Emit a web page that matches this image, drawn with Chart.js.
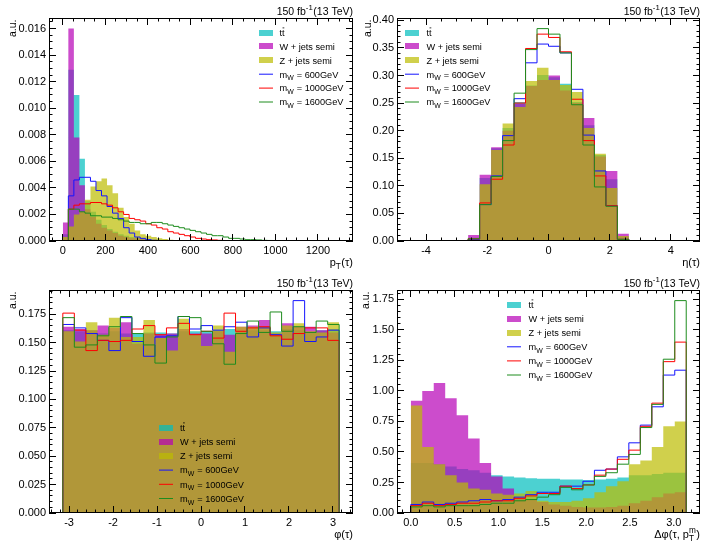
<!DOCTYPE html>
<html>
<head>
<meta charset="utf-8">
<title>tau kinematics</title>
<script src="https://cdn.jsdelivr.net/npm/chart.js@4.4.1/dist/chart.umd.min.js"></script>
<style>
  html, body { margin: 0; padding: 0; background: #fff; }
  body { width: 701px; height: 542px; position: relative; overflow: hidden; }
  .pad { position: absolute; }
</style>
</head>
<body>
<div class="pad" style="left:0;top:0;width:354px;height:271px"><canvas id="ptChart"></canvas></div>
<div class="pad" style="left:350px;top:0;width:351px;height:271px"><canvas id="etaChart"></canvas></div>
<div class="pad" style="left:0;top:271px;width:354px;height:271px"><canvas id="phiChart"></canvas></div>
<div class="pad" style="left:350px;top:271px;width:351px;height:271px"><canvas id="dphiChart"></canvas></div>
<script>
// ==============================
// DATA
// ==============================

const sampleNames = ['t#bar{t}', 'W + jets semi', 'Z + jets semi',
                     'm_{W} = 600GeV', 'm_{W} = 1000GeV', 'm_{W} = 1600GeV'];
const lumiText = '150 fb^{-1}(13 TeV)';

// p_T(tau): 50 bins from 0 to 1300
const ptRange = [0, 1300, 50];
const ptTT = [0.0005, 0.0129, 0.0110, 0.0062, 0.0030, 0.0022, 0.0016, 0.0012, 0.0009, 0.0007, 0.0005, 0.0004, 0.0003, 0.00025, 0.0002, 0.00015, 0.0001, 0.0001, 0.00008, 0.00006, 0.00005, 0.00004, 0.00003, 0.00002, 0.00002, 0.00001];
const ptW = [0.0014, 0.0160, 0.0078, 0.0042, 0.0024, 0.0018, 0.0013, 0.0010, 0.0008, 0.0006, 0.0004, 0.0003, 0.0002, 0.0002, 0.00015, 0.0001, 0.0001, 0.00008, 0.00006, 0.00005, 0.00004, 0.00003, 0.00002, 0.00002, 0.00001];
const ptZ = [0.0003, 0.0011, 0.0020, 0.0022, 0.0031, 0.0041, 0.0045, 0.0047, 0.0042, 0.0036, 0.0025, 0.0018, 0.0013, 0.0008, 0.0005, 0.0004, 0.0003, 0.0002, 0.00015, 0.0001, 0.00008, 0.00006, 0.00004, 0.00003, 0.00002, 0.00001];
const ptM600 = [0, 0.0034, 0.0046, 0.0048, 0.0048, 0.0045, 0.0038, 0.0034, 0.0026, 0.0021, 0.0017, 0.0010, 0.0006, 0.0003, 0.0002, 0.0001, 0.00005, 0.00003, 0.00002, 0.00001];
const ptM1000 = [0, 0.0024, 0.0027, 0.0028, 0.0028, 0.0029, 0.0029, 0.0028, 0.0027, 0.0025, 0.0022, 0.0020, 0.0017, 0.0016, 0.0015, 0.0013, 0.0012, 0.0010, 0.0009, 0.0007, 0.0006, 0.0005, 0.0004, 0.0003, 0.0002, 0.00015, 0.0001, 0.00008, 0.00005, 0.00003, 0.00002];
const ptM1600 = [0, 0.0024, 0.0024, 0.0022, 0.0021, 0.0019, 0.0019, 0.0018, 0.0018, 0.0017, 0.0016, 0.0015, 0.0014, 0.0014, 0.0013, 0.0013, 0.0014, 0.0014, 0.0013, 0.0012, 0.0011, 0.0010, 0.0009, 0.0008, 0.0007, 0.0006, 0.0005, 0.0004, 0.0004, 0.0003, 0.0002, 0.0002, 0.00015, 0.0001, 0.0001, 0.00008, 0.00005, 0.00004, 0.00003, 0.00002];
const ptXTicks = [0, 200, 400, 600, 800, 1000, 1200];
const ptYTicks = [0, 0.002, 0.004, 0.006, 0.008, 0.010, 0.012, 0.014, 0.016];

// eta(tau): 24 bins from -4.5 to 4.5
const etaRange = [-4.5, 4.5, 24];
const etaTT = [0, 0, 0, 0, 0, 0.006, 0.114, 0.168, 0.205, 0.252, 0.282, 0.301, 0.297, 0.285, 0.252, 0.210, 0.156, 0.112, 0.008, 0, 0, 0, 0, 0];
const etaW = [0, 0, 0, 0, 0, 0.011, 0.120, 0.170, 0.200, 0.249, 0.281, 0.292, 0.300, 0.273, 0.250, 0.223, 0.153, 0.127, 0.013, 0, 0, 0, 0, 0];
const etaZ = [0, 0, 0, 0, 0, 0.005, 0.103, 0.165, 0.213, 0.243, 0.290, 0.314, 0.292, 0.283, 0.270, 0.205, 0.158, 0.096, 0.009, 0, 0, 0, 0, 0];
const etaM600 = [0, 0, 0, 0, 0, 0.003, 0.066, 0.118, 0.191, 0.258, 0.323, 0.357, 0.353, 0.341, 0.275, 0.192, 0.127, 0.064, 0.003, 0, 0, 0, 0, 0];
const etaM1000 = [0, 0, 0, 0, 0, 0.004, 0.069, 0.112, 0.174, 0.250, 0.349, 0.375, 0.369, 0.343, 0.257, 0.182, 0.118, 0.064, 0.003, 0, 0, 0, 0, 0];
const etaM1600 = [0, 0, 0, 0, 0, 0.004, 0.066, 0.117, 0.182, 0.268, 0.347, 0.385, 0.375, 0.341, 0.247, 0.174, 0.098, 0.063, 0.003, 0, 0, 0, 0, 0];
const etaXTicks = [-4, -2, 0, 2, 4];
const etaYTicks = [0, 0.05, 0.10, 0.15, 0.20, 0.25, 0.30, 0.35, 0.40];

// phi(tau): 24 bins from -pi to pi
const phiRange = [-Math.PI, Math.PI, 24];
const phiTT = [0.161, 0.160, 0.161, 0.158, 0.160, 0.158, 0.158, 0.159, 0.159, 0.158, 0.160, 0.160, 0.160, 0.161, 0.162, 0.160, 0.161, 0.161, 0.160, 0.162, 0.161, 0.159, 0.161, 0.162];
const phiW = [0.164, 0.162, 0.161, 0.165, 0.163, 0.168, 0.149, 0.158, 0.157, 0.158, 0.162, 0.158, 0.158, 0.160, 0.157, 0.164, 0.165, 0.170, 0.158, 0.167, 0.164, 0.164, 0.161, 0.159];
const phiZ = [0.160, 0.151, 0.168, 0.157, 0.172, 0.155, 0.155, 0.170, 0.154, 0.143, 0.171, 0.157, 0.147, 0.165, 0.142, 0.164, 0.164, 0.164, 0.159, 0.165, 0.167, 0.160, 0.159, 0.168];
const phiM600 = [0.166, 0.163, 0.158, 0.152, 0.143, 0.172, 0.151, 0.138, 0.155, 0.156, 0.173, 0.162, 0.165, 0.161, 0.164, 0.168, 0.155, 0.163, 0.157, 0.147, 0.187, 0.151, 0.155, 0.161];
const phiM1000 = [0.176, 0.161, 0.143, 0.152, 0.151, 0.152, 0.162, 0.165, 0.157, 0.163, 0.167, 0.157, 0.160, 0.154, 0.176, 0.160, 0.163, 0.164, 0.156, 0.153, 0.158, 0.163, 0.163, 0.152];
const phiM1600 = [0.172, 0.146, 0.148, 0.156, 0.164, 0.173, 0.158, 0.148, 0.132, 0.155, 0.173, 0.172, 0.160, 0.149, 0.131, 0.158, 0.169, 0.159, 0.177, 0.160, 0.164, 0.159, 0.169, 0.166];
const phiXTicks = [-3, -2, -1, 0, 1, 2, 3];
const phiYTicks = [0, 0.025, 0.050, 0.075, 0.100, 0.125, 0.150, 0.175];

// delta phi(tau, MET): 24 bins from 0 to pi
const dphiRange = [0, Math.PI, 24];
const dphiTT = [0.41, 0.41, 0.40, 0.38, 0.36, 0.35, 0.33, 0.31, 0.30, 0.29, 0.285, 0.28, 0.28, 0.275, 0.275, 0.27, 0.275, 0.28, 0.29, 0.31, 0.31, 0.32, 0.33, 0.33];
const dphiW = [0.92, 1.00, 1.065, 0.94, 0.80, 0.61, 0.41, 0.30, 0.20, 0.13, 0.11, 0.09, 0.07, 0.06, 0.05, 0.045, 0.045, 0.05, 0.06, 0.08, 0.10, 0.13, 0.16, 0.17];
const dphiZ = [0.88, 0.54, 0.40, 0.31, 0.25, 0.20, 0.19, 0.16, 0.15, 0.16, 0.18, 0.10, 0.09, 0.09, 0.10, 0.12, 0.17, 0.22, 0.26, 0.40, 0.43, 0.54, 0.71, 0.75];
const dphiM600 = [0.07, 0.09, 0.07, 0.08, 0.09, 0.10, 0.11, 0.10, 0.11, 0.13, 0.15, 0.17, 0.17, 0.22, 0.22, 0.26, 0.35, 0.36, 0.46, 0.575, 0.72, 0.87, 1.13, 1.17];
const dphiM1000 = [0.06, 0.08, 0.06, 0.07, 0.08, 0.08, 0.09, 0.10, 0.10, 0.12, 0.14, 0.16, 0.16, 0.22, 0.20, 0.23, 0.31, 0.36, 0.44, 0.515, 0.71, 0.90, 1.24, 1.40];
const dphiM1600 = [0.05, 0.06, 0.05, 0.06, 0.06, 0.06, 0.07, 0.08, 0.08, 0.10, 0.11, 0.13, 0.15, 0.21, 0.19, 0.23, 0.30, 0.33, 0.40, 0.48, 0.70, 0.89, 1.26, 1.74];
const dphiXTicks = [0.0, 0.5, 1.0, 1.5, 2.0, 2.5, 3.0];
const dphiYTicks = [0, 0.25, 0.50, 0.75, 1.00, 1.25, 1.50, 1.75];

// ==============================
// STYLE
// ==============================

const FONT = '"Liberation Sans", Arial, Helvetica, sans-serif';
const sampleColors = ['rgba(0,190,190,0.7)', 'rgba(182,0,182,0.7)', 'rgba(188,188,0,0.7)',
                      'rgb(20,20,255)', 'rgb(255,0,0)', 'rgb(30,140,30)'];
const sampleFilled = [true, true, true, false, false, false];

const panels = [
    { canvas: 'ptChart', series: [ptTT, ptW, ptZ, ptM600, ptM1000, ptM1600], range: ptRange,
      xTicks: ptXTicks, xMinor: 50, xDec: 0, xTitle: 'p_{T}(τ)',
      yTicks: ptYTicks, yMinor: 0.0005, yDec: 3,
      box: { left: 49, top: 18, right: 1, bottom: 30 }, yTitleX: 15.5,
      legend: { x: 259, y: 32.5, dy: 13.9, tx: 279.5 } },
    { canvas: 'etaChart', series: [etaTT, etaW, etaZ, etaM600, etaM1000, etaM1600], range: etaRange,
      xTicks: etaXTicks, xMinor: 0.5, xDec: 0, xTitle: 'η(τ)',
      yTicks: etaYTicks, yMinor: 0.01, yDec: 2,
      box: { left: 47, top: 18, right: 1, bottom: 30 }, yTitleX: 20.5,
      legend: { x: 55, y: 32.5, dy: 13.9, tx: 76.5 } },
    { canvas: 'phiChart', series: [phiTT, phiW, phiZ, phiM600, phiM1000, phiM1600], range: phiRange,
      xTicks: phiXTicks, xMinor: 0.2, xDec: 0, xTitle: 'φ(τ)',
      yTicks: phiYTicks, yMinor: 0.005, yDec: 3,
      box: { left: 49, top: 19, right: 1, bottom: 29 }, yTitleX: 15.5,
      legend: { x: 159, y: 156.5, dy: 14.2, tx: 180 } },
    { canvas: 'dphiChart', series: [dphiTT, dphiW, dphiZ, dphiM600, dphiM1000, dphiM1600], range: dphiRange,
      xTicks: dphiXTicks, xMinor: 0.1, xDec: 1, xTitle: 'Δφ(τ, p_{T}^{m})',
      yTicks: dphiYTicks, yMinor: 0.05, yDec: 2,
      box: { left: 47, top: 19, right: 1, bottom: 29 }, yTitleX: 18.5,
      legend: { x: 157, y: 33.5, dy: 14.1, tx: 178.5 } }
];

// ==============================
// HELPERS
// ==============================

function binEdges(range) {
    const [lo, hi, n] = range;
    const edges = [];
    for (let i = 0; i <= n; i++) edges.push(lo + (hi - lo) * i / n);
    return edges;
}

// outline of a histogram, drawn with stepped lines
function histPoints(edges, values) {
    const pts = [{ x: edges[0], y: 0 }];
    values.forEach((v, i) => pts.push({ x: edges[i], y: v }));
    pts.push({ x: edges[values.length], y: 0 });
    return pts;
}

// tiny TLatex-like text: _{sub}, ^{sup}, #bar{x}
function parseLatex(str) {
    const parts = [];
    const re = /(_|\^|#bar)\{([^}]*)\}/g;
    let last = 0, m;
    while ((m = re.exec(str))) {
        if (m.index > last) parts.push({ t: str.slice(last, m.index), k: 'n' });
        parts.push({ t: m[2], k: m[1] === '_' ? 'sub' : (m[1] === '^' ? 'sup' : 'bar') });
        last = re.lastIndex;
    }
    if (last < str.length) parts.push({ t: str.slice(last), k: 'n' });
    return parts;
}

function drawLatex(ctx, str, x, y, size, align) {
    const items = [];
    let w = 0, prev = null;
    parseLatex(str).forEach(p => {
        const small = p.k === 'sub' || p.k === 'sup';
        const fs = small ? size * 0.75 : size;
        ctx.font = fs + 'px ' + FONT;
        const tw = ctx.measureText(p.t).width;
        let px = w;
        if (p.k === 'sup' && prev && prev.k === 'sub') px = prev.x;
        const dy = p.k === 'sub' ? size * 0.3 : (p.k === 'sup' ? -size * 0.42 : 0);
        const item = { t: p.t, k: p.k, x: px, dy: dy, fs: fs, w: tw };
        items.push(item);
        w = Math.max(w, px + tw + (small ? 0.5 : 0));
        prev = item;
    });
    const x0 = align === 'right' ? x - w : (align === 'center' ? x - w / 2 : x);
    ctx.textAlign = 'left';
    ctx.textBaseline = 'alphabetic';
    items.forEach(it => {
        ctx.font = it.fs + 'px ' + FONT;
        ctx.fillText(it.t, x0 + it.x, y + it.dy);
        if (it.k === 'bar') {
            ctx.save();
            ctx.lineWidth = 0.8;
            ctx.strokeStyle = ctx.fillStyle;
            ctx.beginPath();
            ctx.moveTo(x0 + it.x + 0.5, y - size * 0.86);
            ctx.lineTo(x0 + it.x + it.w - 0.3, y - size * 0.86);
            ctx.stroke();
            ctx.restore();
        }
    });
}

function drawAxisTicks(ctx, scale, majors, minorStep, horizontal, a) {
    const MAJOR = 7, MINOR = 3.5;
    const lo = Math.ceil(scale.min / minorStep - 1e-9);
    const hi = Math.floor(scale.max / minorStep + 1e-9);
    ctx.beginPath();
    for (let k = lo; k <= hi; k++) {
        const v = k * minorStep;
        const isMajor = majors.some(m => Math.abs(m - v) < minorStep * 1e-3);
        const len = isMajor ? MAJOR : MINOR;
        const p = Math.round(scale.getPixelForValue(v) - 0.5) + 0.5;
        if (horizontal) {
            ctx.moveTo(p, a.bottom); ctx.lineTo(p, a.bottom - len);
            ctx.moveTo(p, a.top); ctx.lineTo(p, a.top + len);
        } else {
            ctx.moveTo(a.left, p); ctx.lineTo(a.left + len, p);
            ctx.moveTo(a.right, p); ctx.lineTo(a.right - len, p);
        }
    }
    ctx.stroke();
}

// ROOT-like frame, ticks, legend and labels
function rootStyle(p) {
    return {
        id: 'rootStyle',
        afterDatasetsDraw(chart) {
            const ctx = chart.ctx, a = chart.chartArea;
            ctx.save();
            ctx.strokeStyle = '#000';
            ctx.lineWidth = 1;
            drawAxisTicks(ctx, chart.scales.x, p.xTicks, p.xMinor, true, a);
            drawAxisTicks(ctx, chart.scales.y, p.yTicks, p.yMinor, false, a);
            ctx.strokeRect(a.left + 0.5, a.top + 0.5, a.right - a.left - 1, a.bottom - a.top - 1);

            // legend
            const L = p.legend;
            sampleNames.forEach((name, i) => {
                const cy = L.y + i * L.dy;
                if (sampleFilled[i]) {
                    ctx.fillStyle = sampleColors[i];
                    ctx.fillRect(L.x, Math.round(cy - 3), 14, 6);
                } else {
                    ctx.strokeStyle = sampleColors[i];
                    ctx.beginPath();
                    ctx.moveTo(L.x, cy);
                    ctx.lineTo(L.x + 14, cy);
                    ctx.stroke();
                }
                ctx.fillStyle = '#000';
                drawLatex(ctx, name, L.tx, cy + 3.3, 9.2, 'left');
            });

            ctx.fillStyle = '#000';
            drawLatex(ctx, lumiText, a.right, a.top - 3.5, 10.5, 'right');
            drawLatex(ctx, p.xTitle, a.right, a.bottom + 24.5, 11, 'right');
            ctx.translate(p.yTitleX, a.top + 1.5);
            ctx.rotate(-Math.PI / 2);
            drawLatex(ctx, 'a.u.', 0, 0, 10.5, 'right');
            ctx.restore();
        }
    };
}

function makePanel(p) {
    const edges = binEdges(p.range);
    const span = p.range[1] - p.range[0];
    const yMax = 1.05 * Math.max(...p.series.flat());

    const datasets = p.series.map((vals, i) => ({
        label: sampleNames[i],
        data: histPoints(edges, vals),
        stepped: true,
        borderColor: sampleFilled[i] ? 'rgba(0,0,0,0)' : sampleColors[i],
        backgroundColor: sampleColors[i],
        borderWidth: sampleFilled[i] ? 0 : 1,
        fill: sampleFilled[i] ? 'origin' : false,
        pointRadius: 0,
        order: p.series.length - i
    }));

    const tickFont = { family: FONT, size: 11 };

    new Chart(document.getElementById(p.canvas), {
        type: 'line',
        data: { datasets: datasets },
        options: {
            responsive: true,
            maintainAspectRatio: false,
            animation: false,
            events: [],
            layout: { padding: { top: p.box.top, right: p.box.right, left: 0, bottom: 0 } },
            plugins: { legend: { display: false }, tooltip: { enabled: false } },
            scales: {
                x: {
                    type: 'linear',
                    min: p.range[0] - 0.05 * span,
                    max: p.range[1] + 0.05 * span,
                    grid: { display: false, drawTicks: false },
                    border: { display: false },
                    ticks: {
                        autoSkip: false, maxRotation: 0, padding: 3, color: '#000', font: tickFont,
                        callback: v => v.toFixed(p.xDec)
                    },
                    afterBuildTicks: s => { s.ticks = p.xTicks.map(v => ({ value: v })); },
                    afterFit: s => { s.height = p.box.bottom; }
                },
                y: {
                    type: 'linear',
                    min: 0,
                    max: yMax,
                    grid: { display: false, drawTicks: false },
                    border: { display: false },
                    ticks: {
                        autoSkip: false, padding: 3, color: '#000', font: tickFont,
                        callback: v => v.toFixed(p.yDec)
                    },
                    afterBuildTicks: s => { s.ticks = p.yTicks.map(v => ({ value: v })); },
                    afterFit: s => { s.width = p.box.left; }
                }
            }
        },
        plugins: [rootStyle(p)]
    });
}

panels.forEach(makePanel);
</script>
</body>
</html>
